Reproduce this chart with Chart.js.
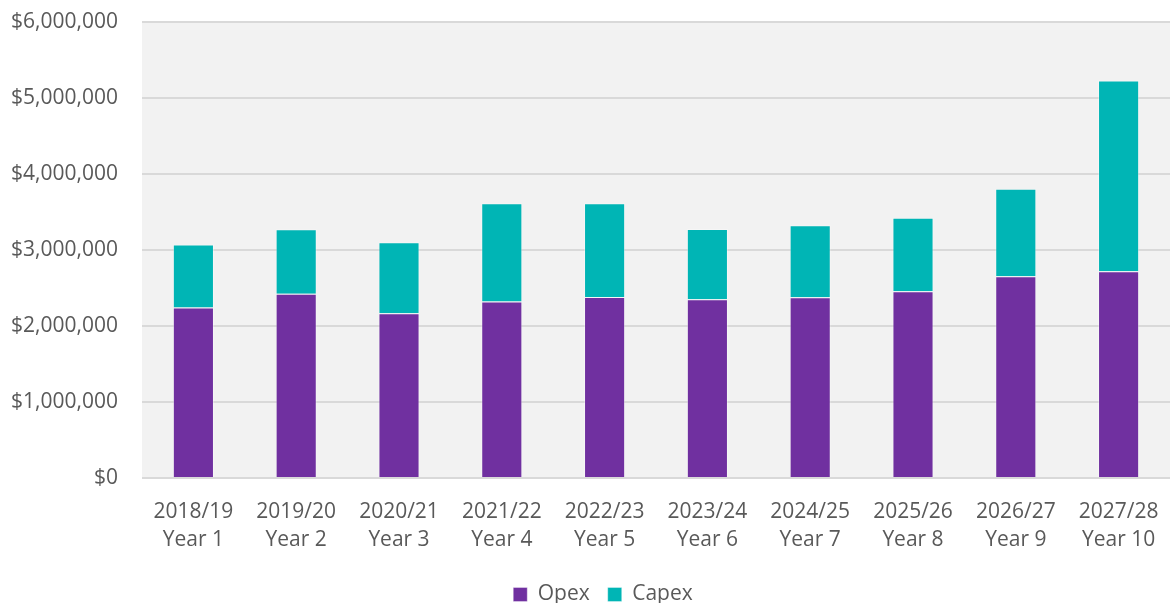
<!DOCTYPE html>
<html><head><meta charset="utf-8">
<script src="https://cdn.jsdelivr.net/npm/chart.js@4"></script>
<style>html,body{margin:0;padding:0;background:#fff}#wrap{width:1170px;height:603px;position:relative}</style>
</head><body><div id="wrap"><canvas id="c" width="1170" height="603"></canvas></div>
<script>
const fiscalYears = ['2018/19','2019/20','2020/21','2021/22','2022/23','2023/24','2024/25','2025/26','2026/27','2027/28'];
const yearLabels = ['Year 1','Year 2','Year 3','Year 4','Year 5','Year 6','Year 7','Year 8','Year 9','Year 10'];
const opex = [2245000, 2426000, 2169000, 2324000, 2381000, 2352000, 2378000, 2458000, 2656000, 2722000];
const capex = [829000, 846000, 932000, 1292000, 1235000, 926000, 949000, 965000, 1151000, 2509000];
const yTicks = [0, 1000000, 2000000, 3000000, 4000000, 5000000, 6000000];

const labels = fiscalYears.map((f, i) => [f, yearLabels[i]]);
const plotBg = {
  id: 'plotBg',
  afterLayout(chart) {
    if (chart.legend) { chart.legend.left += 18; chart.legend.right += 18; }
  },
  beforeDraw(chart) {
    const {ctx, chartArea: a} = chart;
    ctx.save(); ctx.fillStyle = '#f2f2f2';
    ctx.fillRect(a.left, a.top, a.right - a.left, a.bottom - a.top);
    ctx.restore();
  }
};
const font = {family: "'Open Sans', sans-serif", size: 21};
new Chart(document.getElementById('c'), {
  type: 'bar',
  data: {
    labels,
    datasets: [
      {label: 'Opex', data: opex, backgroundColor: '#7030a0', borderColor: 'rgba(255,255,255,0.35)', borderWidth: 1, barPercentage: 0.4, categoryPercentage: 1},
      {label: 'Capex', data: capex, backgroundColor: '#00b5b5', borderColor: 'rgba(255,255,255,0.35)', borderWidth: 1, barPercentage: 0.4, categoryPercentage: 1}
    ]
  },
  options: {
    responsive: false, animation: false,
    layout: {padding: {top: 22, right: 0, left: 0, bottom: -12}},
    plugins: {
      legend: {position: 'bottom', labels: {font, color: '#595959', boxWidth: 14, boxHeight: 14, padding: 18}},
      tooltip: {enabled: false}
    },
    scales: {
      x: {stacked: true, grid: {display: false}, border: {display: false},
          ticks: {font: {...font, lineHeight: 1.38}, color: '#595959', padding: 11, maxRotation: 0}},
      y: {stacked: true, min: 0, max: 6000000,
          afterBuildTicks: s => { s.ticks = yTicks.map(v => ({value: v})); },
          afterFit: s => { s.width = 142; s.paddingTop = 0; },
          grid: {color: '#d9d9d9', lineWidth: 2, drawTicks: false},
          border: {display: false},
          ticks: {font, color: '#595959', padding: 24,
                  callback: v => '$' + Number(v).toLocaleString('en-US')}}
    }
  },
  plugins: [plotBg]
});
</script></body></html>
